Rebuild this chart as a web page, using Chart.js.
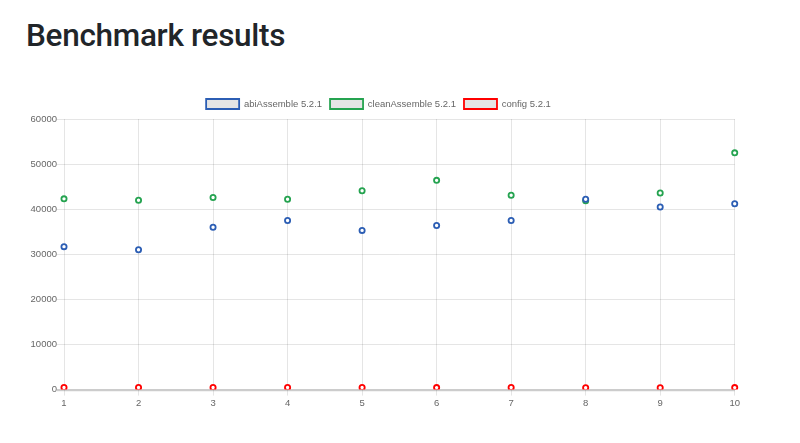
<!DOCTYPE html>
<html>
<head>
<meta charset="utf-8">
<script src="https://cdn.jsdelivr.net/npm/chart.js@4"></script>
<style>
  html, body { margin: 0; padding: 0; background: #fff; }
  h1 { position: absolute; left: 26px; top: 17px; margin: 0; font-family: Roboto, "Liberation Sans", Arial, sans-serif; font-weight: 500; font-size: 31.5px; color: #212529; line-height: 1.2; letter-spacing: -0.3px; }
  #wrap { position: absolute; left: 15px; top: 91px; width: 727px; height: 320px; }
</style>
</head>
<body>
<h1>Benchmark results</h1>
<div id="wrap"><canvas id="c"></canvas></div>
<script>
const labels = ['1', '2', '3', '4', '5', '6', '7', '8', '9', '10'];
const abiAssemble = [31700, 31000, 36000, 37500, 35300, 36400, 37500, 42200, 40500, 41200];
const cleanAssemble = [42300, 42000, 42600, 42200, 44100, 46400, 43100, 41900, 43600, 52500];
const config = [480, 470, 450, 460, 450, 440, 450, 420, 430, 440];
const seriesNames = ['abiAssemble 5.2.1', 'cleanAssemble 5.2.1', 'config 5.2.1'];
const seriesColors = ['#2c5eb4', '#25a350', '#ff0000'];

Chart.defaults.font.family = '"Liberation Sans", Arial, sans-serif';
Chart.defaults.font.size = 9.5;
Chart.defaults.color = '#666';

const mk = (i, data) => ({
  label: seriesNames[i],
  data: data,
  borderColor: seriesColors[i],
  backgroundColor: 'rgba(0,0,0,0.1)',
  pointBackgroundColor: '#fff',
  pointBorderColor: seriesColors[i],
  pointBorderWidth: 1.8,
  pointRadius: 2.6,
  showLine: false,
  borderWidth: 1.8
});

new Chart(document.getElementById('c'), {
  type: 'line',
  data: {
    labels: labels,
    datasets: [mk(0, abiAssemble), mk(1, cleanAssemble), mk(2, config)]
  },
  options: {
    responsive: true,
    maintainAspectRatio: false,
    animation: false,
    layout: { padding: 0 },
    plugins: {
      legend: {
        position: 'top',
        labels: { boxWidth: 33, boxHeight: 10, padding: 8, color: '#666', font: { size: 9.5 },
          generateLabels: (chart) => chart.data.datasets.map((d, i) => ({
            text: d.label, fillStyle: 'rgba(0,0,0,0.1)', strokeStyle: d.borderColor,
            lineWidth: 1.8, hidden: false, datasetIndex: i, fontColor: '#666'
          }))
        }
      },
      tooltip: { enabled: false }
    },
    scales: {
      x: {
        offset: false,
        grid: { color: 'rgba(0,0,0,0.1)', tickLength: 6, drawTicks: true },
        border: { display: false },
        ticks: { padding: 2, color: '#666', maxRotation: 0 }
      },
      y: {
        min: 0, max: 60000,
        afterFit: (axis) => { axis.width = 49; },
        ticks: { stepSize: 10000, padding: 0, color: '#666', callback: (v) => String(v) },
        grid: {
          tickLength: 7,
          color: (ctx) => ctx.tick && ctx.tick.value === 0 ? 'rgba(0,0,0,0.2)' : 'rgba(0,0,0,0.1)',
          lineWidth: (ctx) => ctx.tick && ctx.tick.value === 0 ? 2.2 : 1
        },
        border: { display: false }
      }
    }
  }
});
</script>
</body>
</html>
